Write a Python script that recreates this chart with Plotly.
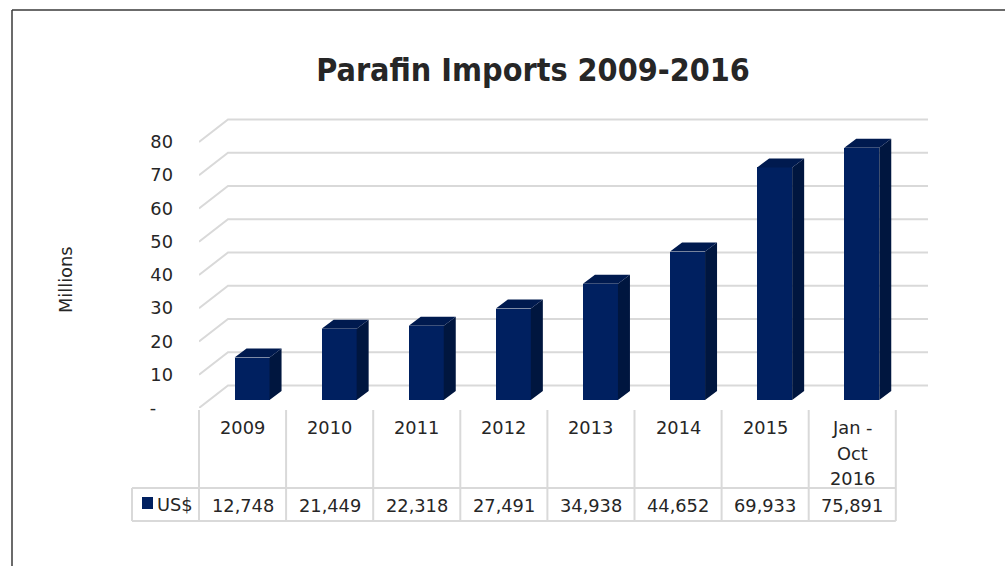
import plotly.graph_objects as go

# ---------------- data ----------------
categories = ["2009", "2010", "2011", "2012", "2013", "2014", "2015", "Jan -<br>Oct<br>2016"]
us_values = [12748, 21449, 22318, 27491, 34938, 44652, 69933, 75891]   # thousands of US$
y_ticks = [0, 10, 20, 30, 40, 50, 60, 70, 80]
y_tick_labels = ["-\u00a0\u00a0\u00a0", "10", "20", "30", "40", "50", "60", "70", "80"]
series_name = "US$"
title_text = "Parafin Imports 2009-2016"
y_title = "Millions"

# ---------------- geometry / style ----------------
W, H = 1005, 566
PL, PR, PT, PB = 199, 930, 110, 408          # plot area in pixels
XU = 87.1                                     # px per category
YU = 3.325                                    # px per value unit (millions)
x_max = (PR - PL) / XU
y_max = (PB - PT) / YU

DEPTH_X, DEPTH_Y = 29 / XU, 22.5 / YU         # back wall offset
BAR_W = 35 / XU
BAR_SHIFT = 9.5 / XU
BAR_BASE = 8 / YU
SIDE_X, SIDE_Y = 12 / XU, 9 / YU
BACK_END = (928 - PL) / XU

FRONT = "#002060"
SIDE = "#00163f"
TOP = "#001a4f"
GRID = "#d9d9d9"
TXT = "#262626"
FONT = "DejaVu Sans"
FS = 17.8
LINE_STEP = 25      # px between lines in the table header


def pxx(px):
    return (px - PL) / (PR - PL)


def pxy(py):
    return (PB - py) / (PB - PT)


n = len(categories)
vals = [v / 1000 for v in us_values]
xc = [i + 0.5 + BAR_SHIFT for i in range(n)]

fig = go.Figure()

# front faces
fig.add_trace(go.Bar(x=xc, y=vals, base=BAR_BASE, width=BAR_W,
                     marker=dict(color=FRONT, line=dict(width=0)),
                     name=series_name, showlegend=False, hoverinfo="skip"))

# side and top faces
sx, sy, tx, ty = [], [], [], []
for c, v in zip(xc, vals):
    xl, xr = c - BAR_W / 2, c + BAR_W / 2
    b, t = BAR_BASE, BAR_BASE + v
    sx += [xr, xr + SIDE_X, xr + SIDE_X, xr, xr, None]
    sy += [b, b + SIDE_Y, t + SIDE_Y, t, b, None]
    tx += [xl, xl + SIDE_X, xr + SIDE_X, xr, xl, None]
    ty += [t, t + SIDE_Y, t + SIDE_Y, t, t, None]
fig.add_trace(go.Scatter(x=sx, y=sy, mode="lines", fill="toself", fillcolor=SIDE,
                         line=dict(width=0, color=SIDE), showlegend=False, hoverinfo="skip"))
fig.add_trace(go.Scatter(x=tx, y=ty, mode="lines", fill="toself", fillcolor=TOP,
                         line=dict(width=0, color=TOP), showlegend=False, hoverinfo="skip"))

shapes = []
# 3D gridlines
for t in y_ticks:
    shapes.append(dict(type="path", xref="x", yref="y", layer="below",
                       path=f"M 0,{t} L {DEPTH_X},{t + DEPTH_Y} L {BACK_END},{t + DEPTH_Y}",
                       line=dict(color=GRID, width=2)))

# data table lines
tbl_top, row_split, tbl_bot = 410, 488, 521
left_cell = 132
right_edge = PL + n * XU
for yy in (row_split, tbl_bot):
    shapes.append(dict(type="line", xref="paper", yref="paper",
                       x0=pxx(left_cell), x1=pxx(right_edge), y0=pxy(yy), y1=pxy(yy),
                       line=dict(color=GRID, width=2)))
shapes.append(dict(type="line", xref="paper", yref="paper",
                   x0=pxx(left_cell), x1=pxx(left_cell), y0=pxy(row_split), y1=pxy(tbl_bot),
                   line=dict(color=GRID, width=2)))
for i in range(n + 1):
    xx = pxx(PL + i * XU)
    shapes.append(dict(type="line", xref="paper", yref="paper",
                       x0=xx, x1=xx, y0=pxy(tbl_top), y1=pxy(tbl_bot),
                       line=dict(color=GRID, width=2)))
# legend key
shapes.append(dict(type="rect", xref="paper", yref="paper",
                   x0=pxx(142), x1=pxx(153), y0=pxy(509), y1=pxy(497),
                   fillcolor=FRONT, line=dict(width=0)))
# outer border
shapes.append(dict(type="line", xref="paper", yref="paper",
                   x0=pxx(12), x1=pxx(12), y0=pxy(10), y1=pxy(570),
                   line=dict(color="#3a3a3a", width=1.5)))
shapes.append(dict(type="line", xref="paper", yref="paper",
                   x0=pxx(12), x1=pxx(1010), y0=pxy(10), y1=pxy(10),
                   line=dict(color="#3a3a3a", width=1.5)))

annotations = []
for i, (cat, v) in enumerate(zip(categories, us_values)):
    for k, part in enumerate(cat.split("<br>")):
        annotations.append(dict(x=i + 0.5, xref="x", y=pxy(428 + k * LINE_STEP), yref="paper",
                                yanchor="middle", xanchor="center", showarrow=False,
                                text=part, font=dict(family=FONT, size=FS, color=TXT)))
    annotations.append(dict(x=i + 0.5, xref="x", y=pxy(505), yref="paper",
                            yanchor="middle", xanchor="center", showarrow=False,
                            text=f"{v:,}", font=dict(family=FONT, size=FS, color=TXT)))
annotations.append(dict(x=pxx(155), xref="paper", y=pxy(504), yref="paper",
                        xanchor="left", yanchor="middle", showarrow=False,
                        text=series_name, font=dict(family=FONT, size=FS, color=TXT)))
annotations.append(dict(x=pxx(65), xref="paper", y=pxy(280), yref="paper",
                        xanchor="center", yanchor="middle", showarrow=False, textangle=-90,
                        text=y_title, font=dict(family=FONT, size=FS, color=TXT)))

fig.update_layout(
    width=W, height=H,
    margin=dict(l=PL, r=W - PR, t=PT, b=H - PB, pad=0),
    paper_bgcolor="white", plot_bgcolor="rgba(0,0,0,0)",
    title=dict(text=f"<b>{title_text}</b>", x=533 / W, xref="container", xanchor="center",
               y=1 - 70 / H, yref="container", yanchor="middle",
               font=dict(family="DejaVu Sans Condensed, DejaVu Sans", size=32, color=TXT)),
    xaxis=dict(range=[0, x_max], visible=False, fixedrange=True),
    yaxis=dict(range=[0, y_max], tickvals=y_ticks, ticktext=y_tick_labels,
               showgrid=False, zeroline=False, showline=False, ticks="",
               ticklabelstandoff=25,
               tickfont=dict(family=FONT, size=FS, color=TXT), fixedrange=True),
    shapes=shapes, annotations=annotations,
    showlegend=False, bargap=0,
)

fig.write_html("out.html", config={"displayModeBar": False},
               post_script="document.body.style.margin='0';document.body.style.padding='0';")
